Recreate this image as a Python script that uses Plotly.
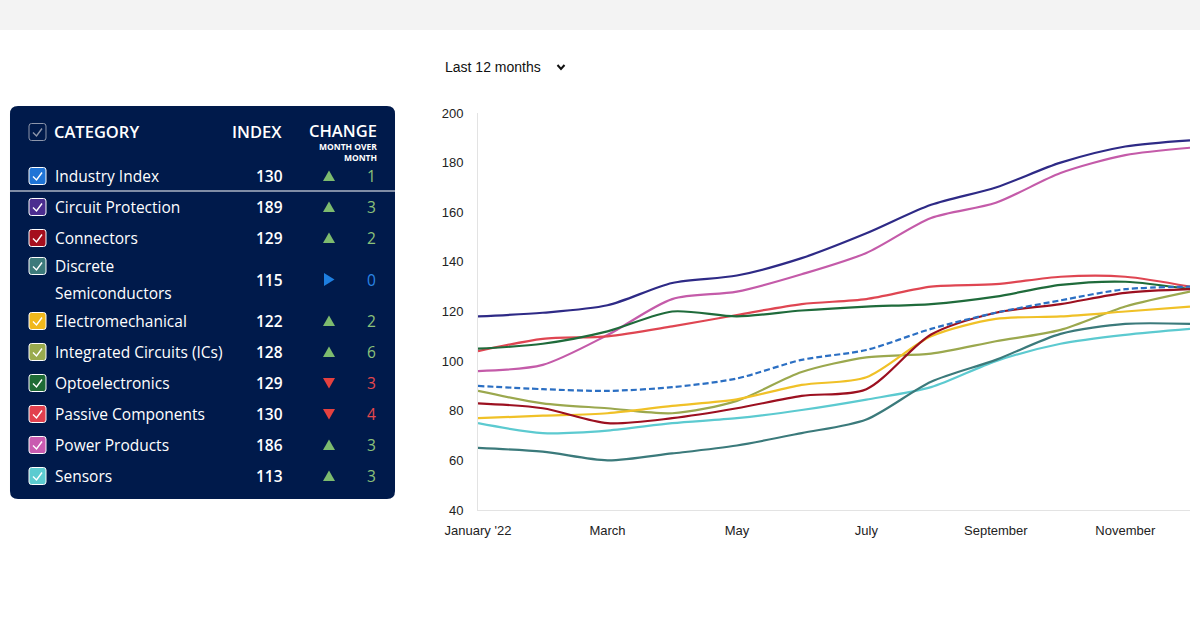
import plotly.graph_objects as go

# months on the x axis
months = ["Jan", "Feb", "Mar", "Apr", "May", "Jun",
          "Jul", "Aug", "Sep", "Oct", "Nov", "Dec"]
tick_months = ["Jan", "Mar", "May", "Jul", "Sep", "Nov"]
tick_text = ["January '22", "March", "May", "July", "September", "November"]

# series values
industry_index = [90, 88.7, 88, 89.5, 93, 100.5, 104.5, 113, 119.5, 124.5, 129, 130]
circuit_protection = [118, 119.5, 122.5, 131.5, 134.5, 141.5, 151.5, 163, 170, 180, 186.5, 189]
connectors = [83, 81, 75, 77, 81, 86, 88.7, 110.7, 119.5, 123, 127.5, 129]
discrete_semis = [65, 63.5, 60, 62.8, 66, 71, 76.5, 91.7, 100.5, 111, 115, 115]
electromechanical = [77, 78, 79, 82, 84.6, 90.4, 93.5, 110, 117, 118, 120, 122]
integrated_circuits = [88, 83, 81, 79, 84, 95.6, 101.5, 103, 108, 112.6, 122, 128]
optoelectronics = [105, 107, 112, 120, 118, 120.4, 122, 123, 126, 130.7, 132, 129]
passive_components = [104, 109, 110, 114, 118.6, 123, 125, 130, 131, 134, 134, 130]
power_products = [96, 98.5, 110.5, 125, 128, 135, 143.6, 157.7, 163.8, 175.8, 183, 186]
sensors = [75, 71, 72, 75, 77, 80.3, 84.5, 89.5, 100, 107, 110.6, 113]

# table in the side panel
categories = ["Industry Index", "Circuit Protection", "Connectors",
              "Discrete Semiconductors", "Electromechanical",
              "Integrated Circuits (ICs)", "Optoelectronics",
              "Passive Components", "Power Products", "Sensors"]
index_values = [130, 189, 129, 115, 122, 128, 129, 130, 186, 113]
changes = [1, 3, 2, 0, 2, 6, -3, -4, 3, 3]

series = [industry_index, circuit_protection, connectors, discrete_semis,
          electromechanical, integrated_circuits, optoelectronics,
          passive_components, power_products, sensors]

line_colors = ["#2b6fc3", "#2e2a86", "#9c1020", "#3b7a7b", "#f0c127",
               "#9ba84e", "#1f6b3b", "#df4652", "#c45ba9", "#5ccad0"]
box_colors = ["#1f74d6", "#4b2d8f", "#a50f1e", "#3c7a7b", "#f0b81c",
              "#9aab4e", "#1e6b35", "#e2404e", "#c95bb0", "#5ccbd0"]

W, H = 1200, 628
PANEL = "#001a4b"
FONT = "Open Sans"


def px(x):
    return x / W


def py(y):
    return 1 - y / H


def path(points, close=True):
    s = "M " + " L ".join(f"{px(x):.5f},{py(y):.5f}" for x, y in points)
    return s + (" Z" if close else "")


def rounded_rect(x0, y0, x1, y1, r):
    # rounded rectangle with quadratic corners
    p = lambda x, y: f"{px(x):.5f},{py(y):.5f}"
    return (f"M {p(x0 + r, y0)} L {p(x1 - r, y0)} Q {p(x1, y0)} {p(x1, y0 + r)} "
            f"L {p(x1, y1 - r)} Q {p(x1, y1)} {p(x1 - r, y1)} "
            f"L {p(x0 + r, y1)} Q {p(x0, y1)} {p(x0, y1 - r)} "
            f"L {p(x0, y0 + r)} Q {p(x0, y0)} {p(x0 + r, y0)} Z")


fig = go.Figure()

# draw in reverse so the first categories sit on top
for name, vals, col in list(zip(categories, series, line_colors))[::-1]:
    fig.add_trace(go.Scatter(
        x=months, y=vals, name=name, mode="lines",
        line=dict(color=col, width=2.2, shape="spline", smoothing=0.8,
                  dash="6px,3px" if name == "Industry Index" else "solid"),
        hoverinfo="name+y"))

shapes = []
annotations = []

# grey strip at the top of the page
shapes.append(dict(type="rect", xref="paper", yref="paper", x0=0, x1=1,
                   y0=py(30), y1=1, fillcolor="#f3f3f3", line_width=0, layer="below"))

# dropdown
annotations.append(dict(text="Last 12 months", x=px(443), y=py(67), xref="paper", yref="paper",
                        xanchor="left", yanchor="middle", showarrow=False,
                        font=dict(family="Liberation Sans", size=14, color="#111")))
shapes.append(dict(type="path", xref="paper", yref="paper",
                   path=path([(557.5, 65), (561, 69), (564.5, 65)], close=False),
                   line=dict(color="#111", width=2)))

# side panel
shapes.append(dict(type="path", xref="paper", yref="paper",
                   path=rounded_rect(10, 106, 395, 499, 8),
                   fillcolor=PANEL, line_width=0, layer="below"))


def checkbox(yc, fill, border, tick):
    x0, x1 = 29, 46
    shapes.append(dict(type="path", xref="paper", yref="paper",
                       path=rounded_rect(x0, yc - 8.5, x1, yc + 8.5, 2.5),
                       fillcolor=fill, line=dict(color=border, width=1)))
    cx = (x0 + x1) / 2
    shapes.append(dict(type="path", xref="paper", yref="paper",
                       path=path([(cx - 4.5, yc + 0.5), (cx - 1, yc + 4), (cx + 4.5, yc - 3.5)],
                                 close=False),
                       line=dict(color=tick, width=1.4)))


def text(s, x, y, anchor="left", size=15, weight=600, color="white", align="left"):
    annotations.append(dict(text=s, x=px(x), y=py(y), xref="paper", yref="paper",
                            xanchor=anchor, yanchor="middle", showarrow=False, align=align,
                            font=dict(family=FONT, size=size, color=color, weight=weight)))


# header
checkbox(132, PANEL, "#8d96ab", "#8d96ab")
text("CATEGORY", 52, 132, size=16.5, weight=600)
text("INDEX", 284, 132, anchor="right", size=16.5, weight=600)
text("CHANGE", 379, 130, anchor="right", size=16.5, weight=600)
annotations.append(dict(text="MONTH OVER<br>MONTH", x=px(379), y=py(152), xref="paper",
                        yref="paper", xanchor="right", yanchor="middle", align="right",
                        showarrow=False,
                        font=dict(family=FONT, size=8.5, color="white", weight=700)))

wrapped = {"Discrete Semiconductors": ["Discrete", "Semiconductors"]}

# row centres: a normal row is 31 px tall, a wrapped row 52 px
yc = None
prev_h = None
for i, name in enumerate(categories):
    lines = wrapped.get(name, [name])
    h = 31 if len(lines) == 1 else 52
    if i == 0:
        yc = 176
    elif i == 1:
        yc = 207
    else:
        yc += (prev_h + h) / 2
    prev_h = h

    top = yc - (len(lines) - 1) * 13.5
    checkbox(top, box_colors[i], "white", "white")
    for k, ln in enumerate(lines):
        text(ln, 53, top + 27 * k, size=15.5, weight=500)
    text(str(index_values[i]), 285, yc, anchor="right", size=15.5, weight=600)

    c = changes[i]
    if c > 0:
        tri, col, tcol = [(323, yc + 5), (335, yc + 5), (329, yc - 5.5)], "#7dbb6e", "#8cc27a"
    elif c < 0:
        tri, col, tcol = [(323, yc - 5), (335, yc - 5), (329, yc + 5.5)], "#e5413f", "#e5484b"
    else:
        tri, col, tcol = [(324, yc - 6.5), (324, yc + 6.5), (334.5, yc)], "#1e7fe0", "#2b86e6"
    shapes.append(dict(type="path", xref="paper", yref="paper", path=path(tri),
                       fillcolor=col, line_width=0))
    text(str(abs(c)), 378, yc, anchor="right", size=15.5, weight=500, color=tcol)

    if i == 0:
        shapes.append(dict(type="line", xref="paper", yref="paper",
                           x0=px(10), x1=px(395), y0=py(191), y1=py(191),
                           line=dict(color="white", width=1.2)))

axis_font = dict(family="Liberation Sans", size=13, color="#222")
fig.update_layout(
    width=W, height=H,
    margin=dict(l=0, r=0, t=0, b=0, autoexpand=False),
    paper_bgcolor="white", plot_bgcolor="white",
    showlegend=False,
    shapes=shapes, annotations=annotations,
    xaxis=dict(domain=[px(478), px(1190)], type="category", range=[0, 11],
               tickvals=tick_months, ticktext=tick_text, automargin=False,
               showgrid=False, zeroline=False, showline=True, linecolor="#e3e3e3",
               linewidth=1, ticks="", ticklabelstandoff=8, tickfont=axis_font),
    yaxis=dict(domain=[py(510), py(113)], range=[40, 200], tickvals=list(range(40, 201, 20)),
               automargin=False,
               showgrid=False, zeroline=False, showline=True, linecolor="#e3e3e3",
               linewidth=1, ticks="", ticklabelstandoff=11, tickfont=axis_font),
)

# page body has a default 8px margin; drop it so the figure sits at the corner
fig.write_html("out.html", config={"displayModeBar": False},
               post_script="document.body.style.margin='0';")
